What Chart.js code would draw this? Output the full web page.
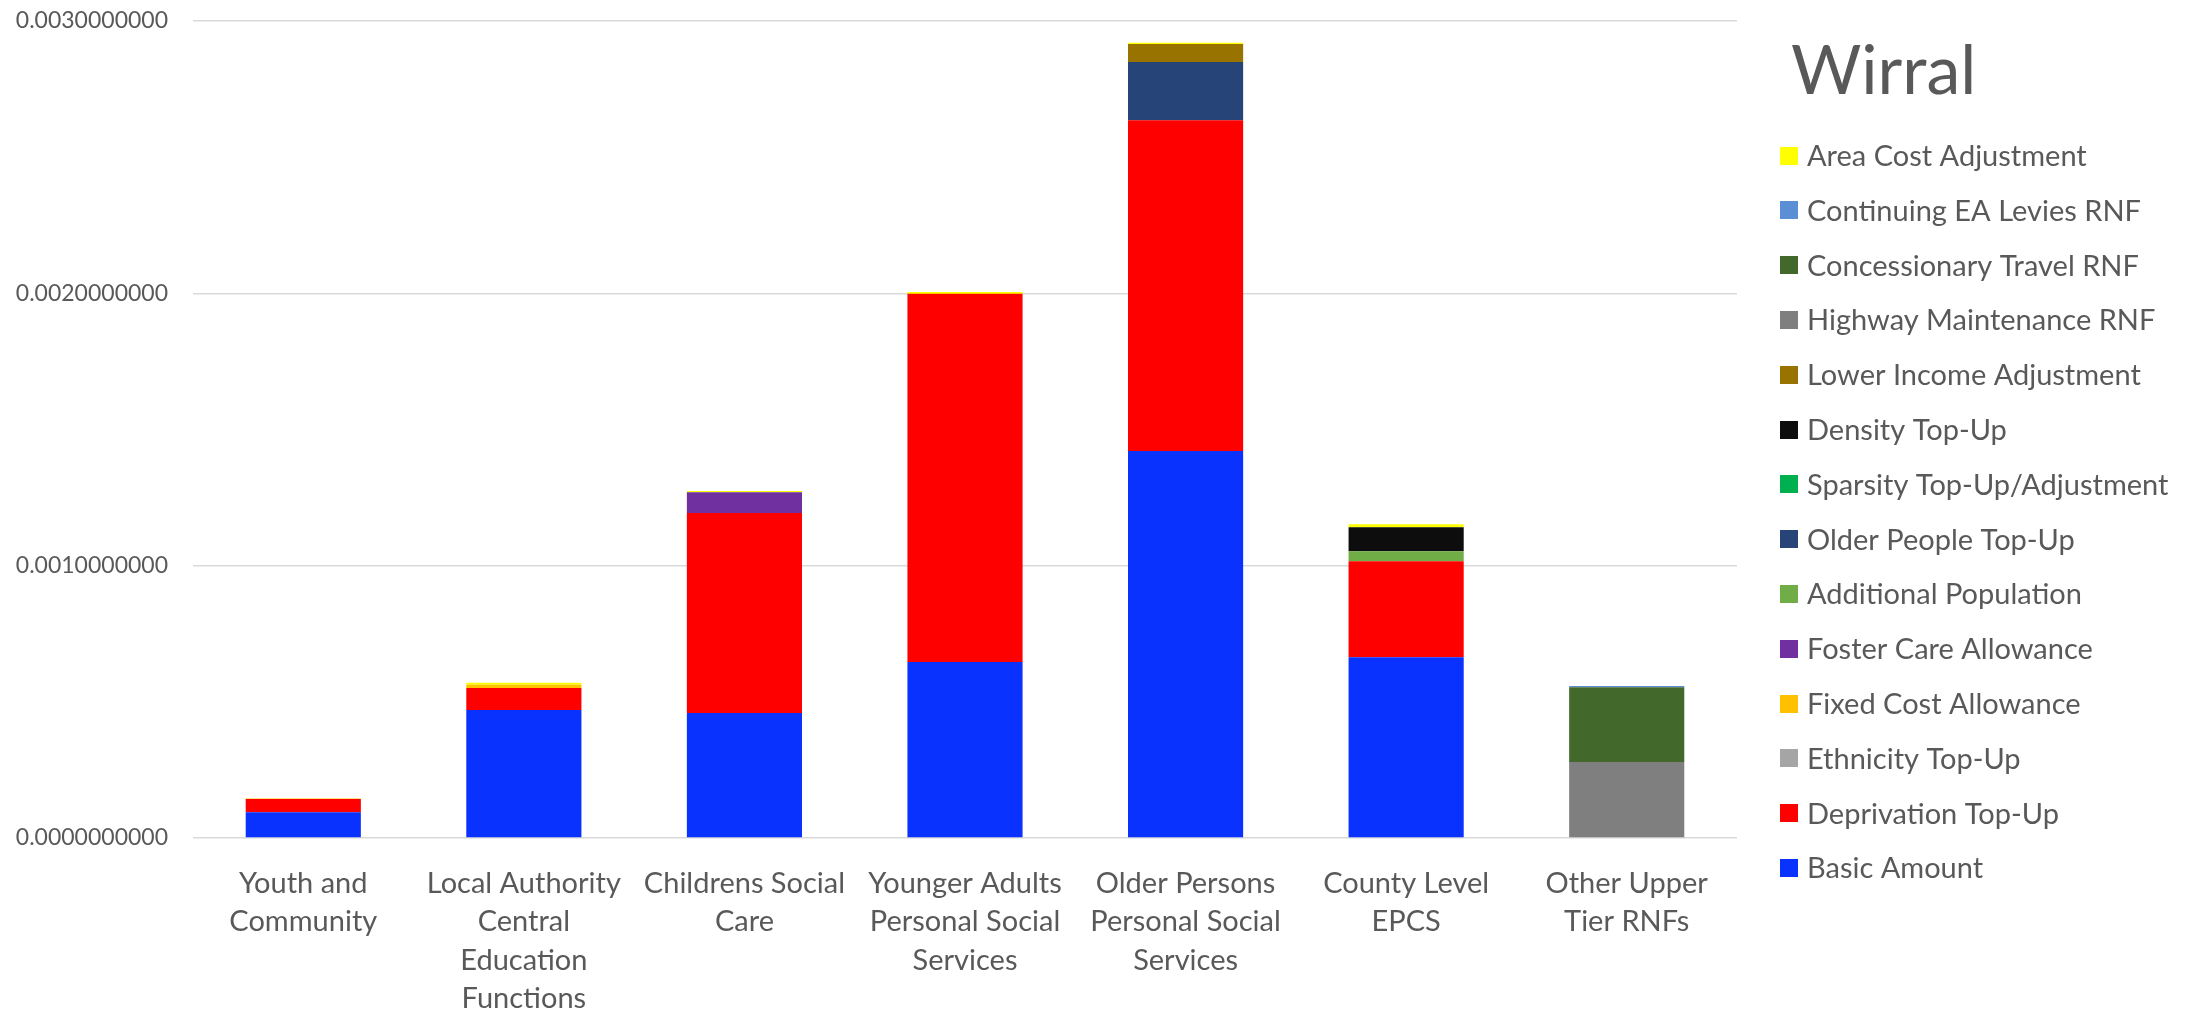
<!DOCTYPE html>
<html>
<head>
<meta charset="utf-8">
<title>Wirral</title>
<script src="https://cdn.jsdelivr.net/npm/chart.js@4.4.1/dist/chart.umd.min.js"></script>
<style>
  html, body { margin: 0; padding: 0; background: #ffffff; }
  #wrap { width: 2201px; height: 1012px; position: relative; }
  canvas { display: block; }
</style>
</head>
<body>
<div id="wrap"><canvas id="c" width="2201" height="1012"></canvas></div>
<script>
// ---------- DATA ----------
const chartTitle = "Wirral";
const categories = [
  ["Youth and", "Community"],
  ["Local Authority", "Central", "Education", "Functions"],
  ["Childrens Social", "Care"],
  ["Younger Adults", "Personal Social", "Services"],
  ["Older Persons", "Personal Social", "Services"],
  ["County Level", "EPCS"],
  ["Other Upper", "Tier RNFs"]
];
// stacked bottom -> top
const seriesNames = [
  "Basic Amount",
  "Deprivation Top-Up",
  "Ethnicity Top-Up",
  "Fixed Cost Allowance",
  "Foster Care Allowance",
  "Additional Population",
  "Older People Top-Up",
  "Sparsity Top-Up/Adjustment",
  "Density Top-Up",
  "Lower Income Adjustment",
  "Highway Maintenance RNF",
  "Concessionary Travel RNF",
  "Continuing EA Levies RNF",
  "Area Cost Adjustment"
];
const basicAmount          = [0.000095, 0.000470, 0.000459, 0.000646, 0.001421, 0.000664, 0];
const deprivationTopUp     = [0.000048, 0.000081, 0.000734, 0.001352, 0.001215, 0.000352, 0];
const ethnicityTopUp       = [0, 0, 0, 0, 0, 0, 0];
const fixedCostAllowance   = [0.000002, 0.000012, 0, 0.000003, 0, 0, 0];
const fosterCareAllowance  = [0, 0, 0.000077, 0, 0, 0, 0];
const additionalPopulation = [0, 0, 0, 0, 0, 0.000037, 0];
const olderPeopleTopUp     = [0, 0, 0, 0, 0.000213, 0, 0];
const sparsityTopUp        = [0, 0, 0, 0, 0, 0, 0];
const densityTopUp         = [0, 0, 0, 0, 0, 0.000088, 0];
const lowerIncomeAdj       = [0, 0, 0, 0, 0.000067, 0, 0];
const highwayMaintenance   = [0, 0, 0, 0, 0, 0, 0.000279];
const concessionaryTravel  = [0, 0, 0, 0, 0, 0, 0.000275];
const continuingEALevies   = [0, 0, 0, 0, 0, 0, 0.000004];
const areaCostAdjustment   = [0, 0.000007, 0.000004, 0.000004, 0.000004, 0.000011, 0];
const yTickValues = [0, 0.001, 0.002, 0.003];

const seriesValues = [
  basicAmount, deprivationTopUp, ethnicityTopUp, fixedCostAllowance,
  fosterCareAllowance, additionalPopulation, olderPeopleTopUp, sparsityTopUp,
  densityTopUp, lowerIncomeAdj, highwayMaintenance, concessionaryTravel,
  continuingEALevies, areaCostAdjustment
];
const seriesColors = [
  "#0a32ff", "#ff0000", "#a5a5a5", "#ffc000",
  "#7030a0", "#70ad47", "#264478", "#00b050",
  "#0d0d0d", "#997300", "#7f7f7f", "#43682b",
  "#5b8fd5", "#ffff00"
];

// ---------- STYLE ----------
const FONT = "Lato, 'Open Sans', 'Noto Sans', sans-serif";
const TEXT = "#595959";

const legendPlugin = {
  id: "sideLegend",
  afterDraw(chart) {
    const ctx = chart.ctx;
    ctx.save();
    ctx.fillStyle = TEXT;
    ctx.textBaseline = "middle";
    ctx.textAlign = "left";
    ctx.font = "68px " + FONT;
    ctx.fillText(chartTitle, 1791, 72);
    const ds = chart.data.datasets;
    ctx.font = "29px " + FONT;
    for (let r = 0; r < ds.length; r++) {
      const d = ds[ds.length - 1 - r];
      const y = 155.6 + r * 54.8;
      ctx.fillStyle = d.backgroundColor;
      ctx.fillRect(1780, Math.round(y - 9), 18, 18);
      ctx.fillStyle = TEXT;
      ctx.fillText(d.label, 1807, y + 1);
    }
    ctx.restore();
  }
};

new Chart(document.getElementById("c"), {
  type: "bar",
  data: {
    labels: categories,
    datasets: seriesNames.map((name, i) => ({
      label: name,
      data: seriesValues[i],
      backgroundColor: seriesColors[i],
      borderWidth: 0,
      categoryPercentage: 1.0,
      barPercentage: 0.522
    }))
  },
  options: {
    responsive: false,
    animation: false,
    devicePixelRatio: 1,
    layout: { padding: { left: 0, right: 464, top: 21, bottom: 0 } },
    plugins: {
      legend: { display: false },
      tooltip: { enabled: false }
    },
    scales: {
      x: {
        stacked: true,
        grid: { display: false, drawTicks: false },
        border: { display: false },
        ticks: {
          color: TEXT,
          font: { family: FONT, size: 29, lineHeight: 1.33 },
          padding: 26,
          maxRotation: 0,
          autoSkip: false
        },
        afterFit(scale) { scale.height = 174; }
      },
      y: {
        stacked: true,
        min: 0,
        max: 0.003,
        afterBuildTicks(scale) { scale.ticks = yTickValues.map(v => ({ value: v })); },
        grid: { color: "#d9d9d9", lineWidth: 1.5, drawTicks: false },
        border: { display: false },
        ticks: {
          color: TEXT,
          font: { family: FONT, size: 23 },
          padding: 25,
          callback: (v) => Number(v).toFixed(10)
        },
        afterFit(scale) {
          scale.width = 193;
          scale.paddingTop = 0;
          scale.paddingBottom = 0;
        }
      }
    }
  },
  plugins: [legendPlugin]
});
</script>
</body>
</html>
